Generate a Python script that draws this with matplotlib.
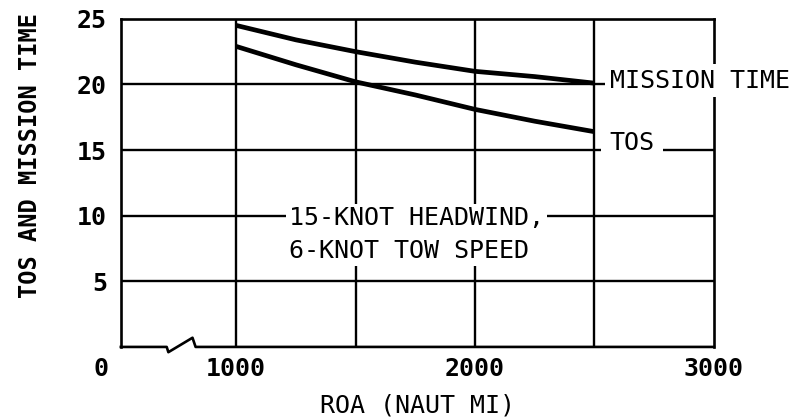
import matplotlib.pyplot as plt
from matplotlib.transforms import ScaledTranslation

# ROA in nautical miles, times in days
roa = [1000, 1250, 1500, 1750, 2000, 2250, 2500]
mission_time = [24.5, 23.4, 22.5, 21.7, 21.0, 20.6, 20.1]
tos = [22.9, 21.5, 20.2, 19.2, 18.1, 17.2, 16.4]

x_ticks = [1000, 2000, 3000]
x_grid = [1000, 1500, 2000, 2500]
y_ticks = [5, 10, 15, 20, 25]
x_left = 517  # where the broken axis starts (labelled 0)

plt.rcParams["font.family"] = ["DejaVu Sans Mono"]

fig = plt.figure(figsize=(7.95, 4.19), dpi=100)
ax = fig.add_axes([0.152, 0.172, 0.746, 0.783])

ax.set_xlim(x_left, 3000)
ax.set_ylim(0, 25)

# grid
for xv in x_grid:
    ax.axvline(xv, color="black", lw=1.7, zorder=1)
for yv in y_ticks[:-1]:
    ax.axhline(yv, color="black", lw=1.7, zorder=1)

# curves
ax.plot(roa, mission_time, color="black", lw=3.4, solid_capstyle="butt", zorder=4)
ax.plot(roa, tos, color="black", lw=3.4, solid_capstyle="butt", zorder=4)

# spines, bottom one drawn by hand with the break mark
for side in ["left", "top", "right"]:
    ax.spines[side].set_linewidth(1.9)
ax.spines["bottom"].set_visible(False)
ax.plot([x_left, 709, 716, 817, 830, 3000], [0, 0, -0.4, 0.7, 0, 0],
        color="black", lw=1.9, clip_on=False, zorder=5)

ax.tick_params(length=0, labelsize=18, pad=7)
ax.tick_params(axis="y", pad=10)
ax.set_xticks(x_ticks)
ax.set_xticklabels([str(v) for v in x_ticks])
ax.set_yticks(y_ticks)
ax.set_yticklabels([str(v) for v in y_ticks])
for lab in ax.get_xticklabels() + ax.get_yticklabels():
    lab.set_fontweight("bold")
# the "0" sits left of the axis break
ax.text(x_left - 85, 0, "0", fontsize=18, fontweight="bold", ha="center",
        va="top", clip_on=False,
        transform=ax.transData + ScaledTranslation(0, -7 / 72, fig.dpi_scale_trans))

ax.set_xlabel("ROA (NAUT MI)", fontsize=18, labelpad=9)
ax.set_ylabel("TOS AND MISSION TIME", fontsize=17, fontweight="bold")
ax.yaxis.set_label_coords(-0.133, 0.585)

box = dict(facecolor="white", edgecolor="none", pad=3)
ax.text(2563, 20.3, "MISSION TIME", fontsize=18, va="center", ha="left",
        bbox=box, zorder=6, clip_on=False)
ax.text(2563, 15.55, "TOS", fontsize=18, va="center", ha="left",
        bbox=dict(facecolor="white", edgecolor="none", pad=6), zorder=6)
ax.text(1221, 8.55, "15-KNOT HEADWIND,\n6-KNOT TOW SPEED", fontsize=18,
        va="center", ha="left", linespacing=1.45,
        bbox=dict(facecolor="white", edgecolor="none", pad=2), zorder=6)

fig.savefig("out.png", dpi=100)
